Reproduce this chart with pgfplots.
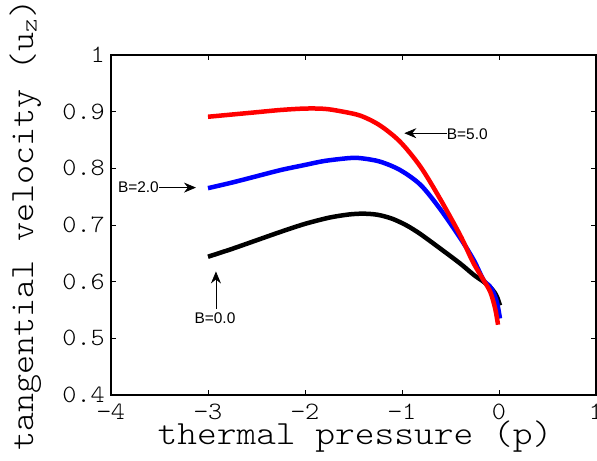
\documentclass[border=0pt]{standalone}
\usepackage{fontspec}
\usepackage{pgfplots}
\pgfplotsset{compat=1.18}
\usetikzlibrary{arrows.meta}
\newfontfamily\annfont{Liberation Sans}
\newfontfamily\xlblfont[FakeStretch=1.11]{lmmonolt10-regular.otf}
\newfontfamily\ylblfont[FakeStretch=1.07]{lmmonolt10-regular.otf}
\newfontfamily\tickfont[FakeStretch=1.08]{lmmonolt10-regular.otf}
\begin{document}
\begin{tikzpicture}
\useasboundingbox (-111bp,-66bp) rectangle (486bp,395bp);
\begin{axis}[
  scale only axis,
  width=485bp, height=340bp,
  xmin=-4, xmax=1, ymin=0.4, ymax=1,
  xtick={-4,-3,-2,-1,0,1},
  xticklabels={−4,−3,−2,−1,0,1},
  ytick={0.4,0.5,0.6,0.7,0.8,0.9,1},
  yticklabels={0.4,0.5,0.6,0.7,0.8,0.9,1},
  tick align=inside,
  major tick length=5bp,
  axis line style={line width=1.2bp},
  every tick/.style={line width=0.8bp, black},
  ticklabel style={font=\fontsize{25}{25}\selectfont\tickfont, inner sep=0pt},
  xticklabel style={yshift=-9bp},
  yticklabel style={xshift=-6bp},
  xlabel={thermal pressure (p)},
  ylabel={tangential velocity (u\textsubscript{z})},
  label style={inner sep=0pt},
  xlabel style={font=\fontsize{34}{34}\selectfont\xlblfont, at={(axis description cs:0.503,-0.147)}, anchor=base},
  ylabel style={font=\fontsize{34}{34}\selectfont\ylblfont, at={(axis description cs:-0.1608,0.5)}, anchor=base},
  clip=false,
]
\addplot[black, line width=4.5bp, smooth] coordinates {
(-3,0.644) (-2.75,0.658) (-2.5,0.673) (-2.25,0.688) (-2.0,0.702) (-1.75,0.713)
(-1.55,0.7185) (-1.4,0.720) (-1.25,0.718) (-1.1,0.711) (-0.95,0.699) (-0.81,0.684)
(-0.61,0.659) (-0.4,0.632) (-0.26,0.612) (-0.16,0.600) (-0.09,0.590) (-0.05,0.582) (-0.02,0.573) (0.01,0.558)
};
\addplot[blue, line width=4.5bp, smooth] coordinates {
(-3,0.765) (-2.75,0.775) (-2.5,0.786) (-2.25,0.797) (-2.0,0.806) (-1.8,0.813)
(-1.55,0.818) (-1.43,0.818) (-1.23,0.812) (-1.02,0.797) (-0.81,0.771) (-0.61,0.729)
(-0.4,0.677) (-0.26,0.638) (-0.16,0.603) (-0.1,0.593) (-0.06,0.582) (-0.02,0.563) (0.01,0.535)
};
\addplot[red, line width=4.5bp, smooth] coordinates {
(-3,0.891) (-2.75,0.895) (-2.5,0.899) (-2.25,0.903) (-2.0,0.9055) (-1.8,0.905)
(-1.64,0.901) (-1.43,0.893) (-1.23,0.876) (-1.02,0.847) (-0.81,0.803) (-0.61,0.747)
(-0.4,0.682) (-0.27,0.635) (-0.16,0.603) (-0.09,0.582) (-0.04,0.553) (-0.01,0.524)
};
% annotations
\draw[line width=0.7bp, -{Stealth[length=12bp,width=10bp,inset=4bp]}] (axis cs:-3.505,0.766) -- (axis cs:-3.124,0.766);
\node[anchor=east, inner sep=0pt, font=\annfont\fontsize{15.5}{15.5}\selectfont] at (axis cs:-3.505,0.766) {B=2.0};
\draw[line width=0.7bp, -{Stealth[length=12bp,width=10bp,inset=4bp]}] (axis cs:-0.539,0.862) -- (axis cs:-0.976,0.862);
\node[anchor=west, inner sep=0pt, font=\annfont\fontsize{15.5}{15.5}\selectfont] at (axis cs:-0.539,0.861) {B=5.0};
\draw[line width=0.7bp, -{Stealth[length=12bp,width=10bp,inset=4bp]}] (axis cs:-2.918,0.552) -- (axis cs:-2.918,0.618);
\node[anchor=north, inner sep=0pt, font=\annfont\fontsize{15.5}{15.5}\selectfont] at (axis cs:-2.928,0.546) {B=0.0};
\end{axis}
\end{tikzpicture}
\end{document}
